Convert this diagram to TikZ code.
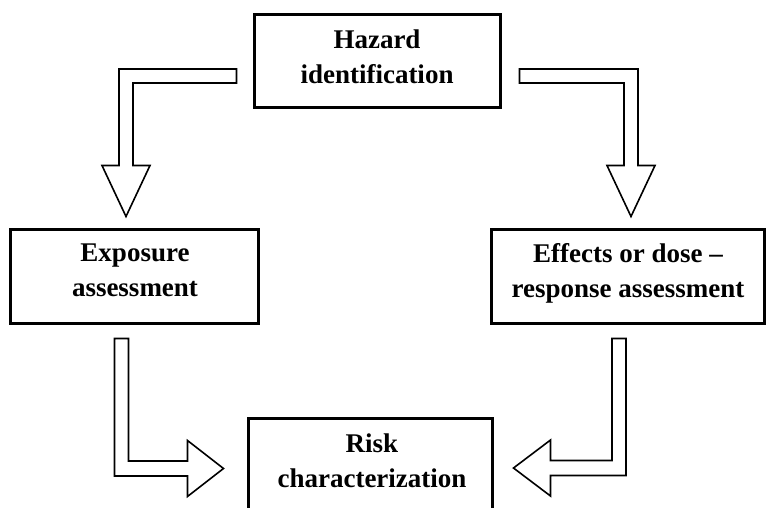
\documentclass[tikz,border=0pt]{standalone}
\usepackage{fontspec}
\setmainfont{Liberation Serif}
\usetikzlibrary{calc}

\tikzset{
  box/.style={draw, line width=3pt, inner sep=0pt},
  boxtext/.style={font=\fontsize{27}{35}\selectfont\bfseries, align=center, inner sep=0pt},
  blockarrow/.style={draw, line width=1.6pt, fill=white, line join=miter},
}

% Hollow elbow arrow: horizontal bar from #1, then down to the tip #2.
% #3 = +1 if the tip lies right of the start, -1 if left; #4 head half-width; #5 head length.
\newcommand\elbowHV[5]{%
  \draw[blockarrow] ($(#1)+(0,-7)$) -- ($(#2|-#1)+({(#3)*7},-7)$)
    -- ($(#2)+({(#3)*7},-#5)$) -- ($(#2)+({(#3)*#4},-#5)$) -- (#2)
    -- ($(#2)+({-(#3)*#4},-#5)$) -- ($(#2)+({-(#3)*7},-#5)$)
    -- ($(#2|-#1)+({-(#3)*7},7)$) -- ($(#1)+(0,7)$) -- cycle;}

% Hollow elbow arrow: vertical shaft down from #1, then sideways to the tip #2.
\newcommand\elbowVH[5]{%
  \draw[blockarrow] ($(#1)+({-(#3)*7},0)$) -- ($(#1)+({(#3)*7},0)$)
    -- ($(#1|-#2)+({(#3)*7},-7.5)$) -- ($(#2)+({-(#3)*#5},-7.5)$)
    -- ($(#2)+({-(#3)*#5},-#4)$) -- (#2) -- ($(#2)+({-(#3)*#5},#4)$)
    -- ($(#2)+({-(#3)*#5},7.5)$) -- ($(#1|-#2)+({-(#3)*7},7.5)$) -- cycle;}

\begin{document}
\begin{tikzpicture}[x=1pt,y=-1pt]
\useasboundingbox (0,0) rectangle (766,507);
\fill[white] (0,0) rectangle (766,507);
\clip (0,0) rectangle (766,507);

% boxes
\node[box, minimum width=246pt, minimum height=93pt] (haz) at (377,60.5) {};
\node[box, minimum width=248pt, minimum height=94pt] (expo) at (134,276) {};
\node[box, minimum width=273pt, minimum height=94pt] (eff) at (627.5,276) {};
\node[box, minimum width=244pt, minimum height=120pt, anchor=north] (risk) at (370,417) {};

% box texts
\node[boxtext] (hazt) at ($(haz.center)+(0,-4)$) {Hazard\\identification};
\node[boxtext] (expot) at ($(expo.center)+(1,-6)$) {Exposure\\assessment};
\node[boxtext] (efft) at ($(eff.center)+(0.5,-3)$) {Effects or dose –\\response assessment};
\node[boxtext] (riskt) at ($(risk.north)+(2,43.4)$) {Risk\\characterization};

% connectors
\coordinate (a1s) at ($(haz.west)+(-16,15.5)$);
\coordinate (a1t) at ($(expo.north)+(-8,-11)$);
\elbowHV{a1s}{a1t}{-1}{24}{51}

\coordinate (a2s) at ($(haz.east)+(18,15.5)$);
\coordinate (a2t) at ($(eff.north)+(3.5,-11)$);
\elbowHV{a2s}{a2t}{1}{24}{51}

\coordinate (a3s) at ($(expo.south)+(-12.5,14)$);
\coordinate (a3t) at ($(risk.north west)+(-23,51.5)$);
\elbowVH{a3s}{a3t}{1}{28}{36}

\coordinate (a4s) at ($(eff.south)+(-8.5,14)$);
\coordinate (a4t) at ($(risk.north east)+(20,51)$);
\elbowVH{a4s}{a4t}{-1}{28}{37}
\end{tikzpicture}
\end{document}
